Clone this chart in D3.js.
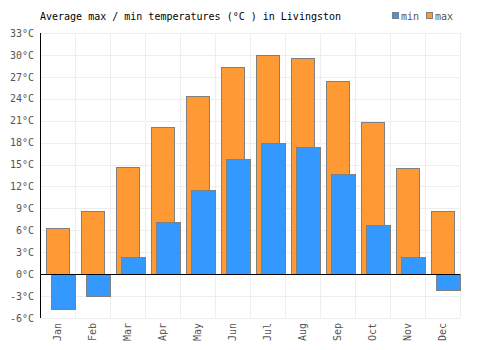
<!DOCTYPE html>
<html><head><meta charset="utf-8">
<script src="https://cdn.jsdelivr.net/npm/d3@7"></script>
<style>body{margin:0;background:#fff}</style>
</head><body>
<svg id="c" width="500" height="350"></svg>
<script>
const months = ["Jan","Feb","Mar","Apr","May","Jun","Jul","Aug","Sep","Oct","Nov","Dec"];
const maxTemps = [6.3, 8.7, 14.6, 20.1, 24.4, 28.4, 30.0, 29.6, 26.4, 20.8, 14.5, 8.6];
const minTemps = [-4.7, -3.0, 2.4, 7.1, 11.5, 15.8, 17.9, 17.4, 13.7, 6.7, 2.4, -2.2];
const yTicks = [-6,-3,0,3,6,9,12,15,18,21,24,27,30,33];

const svg = d3.select("#c");
const L = 40, R = 460, T = 33, B = 318;
const font = "'DejaVu Sans Mono', monospace";
const x = d3.scaleBand().domain(months).range([L, R]);
const y = d3.scaleLinear().domain([-6, 33]).range([B, T]);

// grid
svg.append("g").selectAll("line").data(yTicks).join("line")
  .attr("x1", L).attr("x2", R).attr("y1", d => Math.round(y(d)) + 0.5).attr("y2", d => Math.round(y(d)) + 0.5)
  .attr("stroke", "#eeeeee");
svg.append("g").selectAll("line").data(months).join("line")
  .attr("x1", d => Math.round(x(d) + x.bandwidth()) + 0.5).attr("x2", d => Math.round(x(d) + x.bandwidth()) + 0.5)
  .attr("y1", T).attr("y2", B).attr("stroke", "#eeeeee");

// bars
const bw = x.bandwidth();
svg.append("g").selectAll("rect").data(months).join("rect")
  .attr("x", (d) => Math.round(x(d) + 6) + 0.5)
  .attr("width", 23)
  .attr("y", (d, i) => Math.round(y(maxTemps[i])) + 0.5)
  .attr("height", (d, i) => Math.round(y(0)) - Math.round(y(maxTemps[i])))
  .attr("fill", "#ff9933").attr("stroke", "#808080");
svg.append("g").selectAll("rect").data(months).join("rect")
  .attr("x", (d) => Math.round(x(d) + 11) + 0.5)
  .attr("width", 24)
  .attr("y", (d, i) => Math.round(y(Math.max(0, minTemps[i]))) + 0.5)
  .attr("height", (d, i) => Math.abs(Math.round(y(minTemps[i])) - Math.round(y(0))))
  .attr("fill", "#3399ff").attr("stroke", "#808080");

// axes
const yAxis = svg.append("g").attr("transform", `translate(${L},0)`)
  .call(d3.axisLeft(y).tickValues(yTicks).tickSize(0).tickPadding(6).tickFormat(d => d + "°C"));
yAxis.select(".domain").remove();
yAxis.selectAll("text").attr("font-family", font).attr("font-size", 10).attr("fill", "#555");
svg.append("line").attr("x1", L + 0.5).attr("x2", L + 0.5).attr("y1", T).attr("y2", B).attr("stroke", "#000");
svg.append("line").attr("x1", L).attr("x2", R).attr("y1", Math.round(y(0)) + 0.5).attr("y2", Math.round(y(0)) + 0.5).attr("stroke", "#000");

const xAxis = svg.append("g").attr("transform", `translate(0,${B})`)
  .call(d3.axisBottom(x).tickSize(0).tickPadding(0));
xAxis.select(".domain").remove();
xAxis.selectAll("text").attr("font-family", font).attr("font-size", 10).attr("fill", "#555")
  .attr("transform", "rotate(-90)").attr("text-anchor", "end").attr("x", -5).attr("y", 0).attr("dy", "0.35em");

// title
svg.append("text").attr("x", 40).attr("y", 20).attr("font-family", font).attr("font-size", 10)
  .attr("fill", "#000").text("Average max / min temperatures (°C ) in Livingston");

// legend
const leg = [["min", "#3399ff", 392], ["max", "#ff9933", 426]];
leg.forEach(([t, c, lx]) => {
  svg.append("rect").attr("x", lx + 0.5).attr("y", 12.5).attr("width", 6).attr("height", 6).attr("fill", c).attr("stroke", "#808080");
  svg.append("text").attr("x", lx + 9).attr("y", 20).attr("font-family", font).attr("font-size", 10).attr("fill", "#555").text(t);
});
</script>
</body></html>
